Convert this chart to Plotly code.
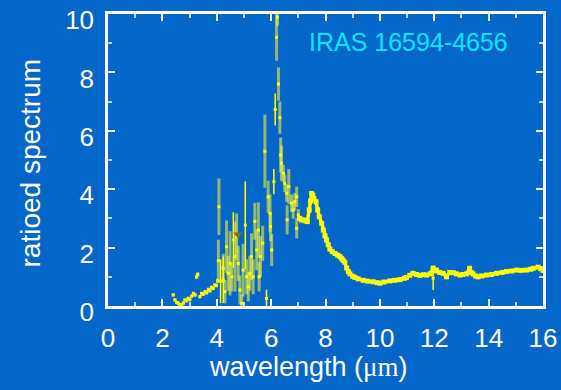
import plotly.graph_objects as go

# ---- data ----
# noisy part of the spectrum: wavelength (um), ratio, error (wide semi-transparent bars)
noisy_wl = [2.40, 2.46, 2.53, 2.59, 2.65, 2.71, 2.77, 2.83, 2.89, 2.95, 3.01, 3.08, 3.14, 3.20,
            3.26, 3.30, 3.38, 3.44, 3.50, 3.57, 3.63, 3.69, 3.75, 3.81, 3.87, 3.93, 3.99, 4.03,
            4.08, 4.06, 4.24, 4.30, 4.36, 4.42, 4.49, 4.55, 4.67, 4.73, 4.79, 4.85, 4.92, 4.97,
            5.10, 5.16, 5.22, 5.28, 5.34, 5.40, 5.47, 5.53, 5.56, 5.61, 5.69, 5.77, 5.89, 5.96,
            5.98, 6.02, 6.20, 6.23, 6.27, 6.32, 6.35, 6.38, 6.45, 6.50, 6.57, 6.59, 6.65, 6.75,
            6.81, 6.87, 6.94, 6.94, 7.00]
noisy_val = [0.38, 0.21, 0.12, 0.09, 0.05, 0.03, 0.10, 0.21, 0.18, 0.26, 0.22, 0.34, 0.43, 0.38,
             1.00, 1.08, 0.32, 0.43, 0.40, 0.49, 0.45, 0.57, 0.52, 0.64, 0.60, 0.72, 0.70, 0.86,
             3.40, 1.55, 1.29, 0.49, 2.03, 1.12, 1.46, 1.00, 1.69, 2.37, 1.46, 0.55, 0.09, 1.23,
             1.00, 0.66, 1.12, 1.69, 1.00, 2.90, 1.92, 2.60, 1.00, 1.69, 2.15, 5.30, 3.74, 3.17,
             2.72, 1.92, 9.20, 9.89, 7.60, 6.45, 5.17, 4.89, 4.54, 4.20, 3.86, 2.95, 4.09, 3.52,
             3.29, 3.57, 3.74, 2.66, 3.12]
noisy_err = [0.06, 0.06, 0.06, 0.06, 0.06, 0.06, 0.06, 0.06, 0.06, 0.06, 0.06, 0.06, 0.06, 0.06,
             0.08, 0.08, 0.06, 0.06, 0.06, 0.06, 0.06, 0.06, 0.06, 0.06, 0.06, 0.06, 0.06, 0.08,
             0.97, 0.72, 0.50, 0.40, 0.90, 0.60, 1.10, 0.50, 1.20, 0.80, 0.60, 0.50, 0.30, 0.90,
             0.60, 0.50, 0.60, 0.80, 0.60, 0.63, 0.70, 0.95, 0.50, 0.70, 0.60, 1.25, 0.55, 0.65,
             0.50, 0.55, 0.80, 0.30, 0.57, 0.55, 0.60, 0.60, 0.30, 0.30, 0.30, 0.50, 0.60, 0.30,
             0.30, 0.30, 0.35, 0.35, 0.20]

# points with thin bright error bars
bright_wl = [4.14, 4.24, 4.61, 5.05, 5.83, 6.10, 6.15, 11.96]
bright_val = [0.85, 0.90, 2.26, 2.77, 0.26, 4.26, 6.73, 0.95]
bright_err = [0.75, 0.80, 0.95, 1.50, 0.30, 0.43, 0.55, 0.40]

# smooth continuum beyond 7 um
cont_wl = [7.05, 7.12, 7.18, 7.24, 7.33, 7.40, 7.45, 7.49, 7.53, 7.57, 7.65, 7.71, 7.77, 7.86,
           7.92, 7.98, 8.04, 8.10, 8.16, 8.25, 8.35, 8.45, 8.53, 8.60, 8.65, 8.71, 8.78, 8.84,
           8.90, 9.00, 9.08, 9.20, 9.39, 9.55, 9.75, 9.90, 10.00, 10.15, 10.37, 10.55, 10.74,
           10.90, 10.98, 11.10, 11.22, 11.35, 11.47, 11.60, 11.72, 11.85, 11.96, 12.02, 12.08,
           12.20, 12.33, 12.45, 12.57, 12.70, 12.82, 12.94, 13.05, 13.19, 13.30, 13.36, 13.43,
           13.52, 13.61, 13.75, 13.92, 14.10, 14.29, 14.50, 14.66, 14.85, 15.03, 15.20, 15.39,
           15.55, 15.64, 15.82, 15.92, 16.00]
cont_val = [3.00, 2.95, 2.95, 2.92, 2.89, 3.29, 3.60, 3.85, 3.80, 3.69, 3.57, 3.29, 3.06, 2.83,
            2.60, 2.40, 2.26, 2.10, 1.95, 1.86, 1.80, 1.74, 1.69, 1.62, 1.56, 1.50, 1.30, 1.18,
            1.10, 1.02, 0.98, 0.93, 0.88, 0.85, 0.83, 0.80, 0.78, 0.82, 0.86, 0.88, 0.90,
            0.95, 0.98, 1.05, 1.12, 1.08, 1.05, 1.07, 1.06, 1.10, 1.30, 1.20, 1.23,
            1.15, 1.12, 1.00, 1.15, 1.14, 1.10, 1.06, 1.08, 1.10, 1.29, 1.15, 1.10,
            1.03, 1.00, 1.03, 1.06, 1.08, 1.12, 1.15, 1.18, 1.20, 1.23, 1.22, 1.23,
            1.26, 1.29, 1.33, 1.28, 1.22]

# upper-limit marker
limit_wl = [4.78]
limit_val = [2.45]

x_ticks = [0, 2, 4, 6, 8, 10, 12, 14, 16]
y_ticks = [0, 2, 4, 6, 8, 10]

BG = "#0566C9"
YEL = "#FFFF00"
FONT = "Liberation Sans, Arial, sans-serif"

fig = go.Figure()
fig.add_trace(go.Scatter(
    x=noisy_wl, y=noisy_val, mode="markers",
    marker=dict(symbol="square", size=3, color=YEL),
    error_y=dict(type="data", array=noisy_err, color="rgba(240,240,60,0.6)", thickness=3, width=0),
    showlegend=False))
fig.add_trace(go.Scatter(
    x=bright_wl, y=bright_val, mode="markers",
    marker=dict(symbol="square", size=3, color=YEL),
    error_y=dict(type="data", array=bright_err, color=YEL, thickness=1.5, width=0),
    showlegend=False))
fig.add_trace(go.Scatter(
    x=cont_wl, y=cont_val, mode="lines+markers",
    line=dict(color=YEL, width=3.5),
    marker=dict(symbol="square", size=5, color=YEL),
    showlegend=False))
fig.add_trace(go.Scatter(
    x=limit_wl, y=limit_val, mode="markers",
    marker=dict(symbol="triangle-down", size=8, color="#7A7A10"),
    showlegend=False))

axis_common = dict(
    showline=True, linecolor="white", linewidth=2.5, mirror="ticks",
    ticks="inside", ticklen=7, tickwidth=2, tickcolor="white",
    showgrid=False, zeroline=False, automargin=False,
    ticklabeloverflow="allow",
    tickfont=dict(family=FONT, size=26, color="white"),
)
fig.update_xaxes(range=[0, 16], tickvals=x_ticks, ticktext=[str(v) for v in x_ticks],
                 minor=dict(dtick=1, ticks="inside", ticklen=4, tickwidth=2,
                            tickcolor="rgba(255,255,255,0.75)"),
                 ticklabelstandoff=7, **axis_common)
fig.update_yaxes(range=[0, 10], tickvals=y_ticks, ticktext=[str(v) for v in y_ticks],
                 minor=dict(dtick=1, ticks="inside", ticklen=4, tickwidth=2,
                            tickcolor="rgba(255,255,255,0.75)"),
                 ticklabelstandoff=6, ticklabelshift=6, **axis_common)

fig.update_layout(
    width=561, height=390,
    margin=dict(l=108, r=18, t=14, b=84),
    paper_bgcolor=BG, plot_bgcolor=BG,
    font=dict(family=FONT, color="white"),
    annotations=[
        dict(text="IRAS 16594-4656", xref="paper", yref="paper", x=0.69, y=0.905,
             xanchor="center", yanchor="middle", showarrow=False,
             font=dict(family=FONT, size=25, color="#00E8FF")),
        dict(text="wavelength (<span style='font-family:Liberation Serif, Times New Roman, serif'>μm</span>)",
             xref="paper", yref="paper", x=0.46, y=-0.209,
             xanchor="center", yanchor="middle", showarrow=False,
             font=dict(family=FONT, size=27, color="white")),
        dict(text="ratioed spectrum", xref="paper", yref="paper", x=-0.178, y=0.49,
             xanchor="center", yanchor="middle", textangle=-90, showarrow=False,
             font=dict(family=FONT, size=28, color="white")),
    ],
)

fig.write_html("out.html", config={"displayModeBar": False},
               post_script="document.body.style.margin='0';document.body.style.padding='0';"
                           "document.body.style.background='" + BG + "';")
